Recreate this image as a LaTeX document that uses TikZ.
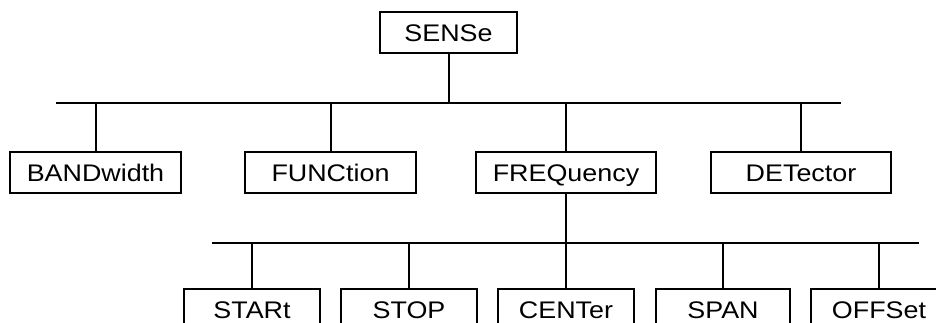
\documentclass[tikz,border=0pt]{standalone}
\usepackage{fontspec}
\setmainfont[FakeStretch=1.12]{Liberation Sans}
\begin{document}
\begin{tikzpicture}[x=0.75pt,y=-0.75pt,line width=1.5pt,
  cmdbox/.style={draw,line width=1.5pt,minimum height=41*0.75pt,inner sep=0pt,
    text height=12.9pt,text depth=0pt,font=\fontsize{18}{20}\selectfont,text=black},
  wire/.style={line width=1.5pt}]
\useasboundingbox (0,0) rectangle (936,322);
\clip (0,0) rectangle (936,322);
\node[cmdbox,minimum width=137*0.75pt] (sense) at (448.5,32.5) {SENSe};
\node[cmdbox,minimum width=171*0.75pt] (band) at (95.5,172.5) {BANDwidth};
\node[cmdbox,minimum width=171*0.75pt] (func) at (330.5,172.5) {FUNCtion};
\node[cmdbox,minimum width=180*0.75pt] (freq) at (566,172.5) {FREQuency};
\node[cmdbox,minimum width=180*0.75pt] (det) at (801,172.5) {DETector};
\node[cmdbox,minimum width=136*0.75pt] (start) at (252,309.5) {STARt};
\node[cmdbox,minimum width=136*0.75pt] (stop) at (409,309.5) {STOP};
\node[cmdbox,minimum width=136*0.75pt] (center) at (566,309.5) {CENTer};
\node[cmdbox,minimum width=134*0.75pt] (span) at (723,309.5) {SPAN};
\node[cmdbox,minimum width=136*0.75pt] (offset) at (879,309.5) {OFFSet};
\coordinate (busAl) at (56,103);
\coordinate (busAr) at (841,103);
\coordinate (busBl) at (212,243);
\coordinate (busBr) at (919,243);
\draw[wire] (busAl) -- (busAr);
\draw[wire] (busBl) -- (busBr);
\draw[wire] (sense.south) -- (sense.south |- busAl);
\foreach \n in {band,func,freq,det}
  \draw[wire] (\n.north) -- (\n.north |- busAl);
\draw[wire] (freq.south) -- (freq.south |- busBl);
\foreach \n in {start,stop,center,span,offset}
  \draw[wire] (\n.north) -- (\n.north |- busBl);
\end{tikzpicture}
\end{document}
